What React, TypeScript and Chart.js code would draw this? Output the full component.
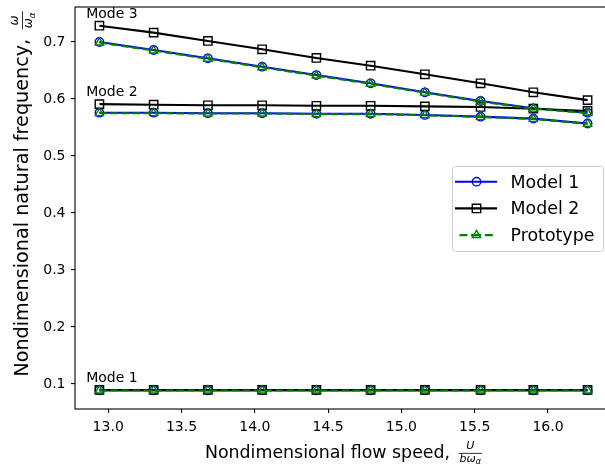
import React, { useEffect, useRef } from "react";
import { Chart, registerables } from "chart.js";

Chart.register(...registerables);

// ---------------- data ----------------
const flowSpeed = [12.94, 13.31, 13.68, 14.05, 14.42, 14.79, 15.16, 15.54, 15.9, 16.27];

const model1Mode1 = [0.0888, 0.0888, 0.0888, 0.0888, 0.0888, 0.0888, 0.0888, 0.0888, 0.0888, 0.0888];
const model1Mode2 = [0.576, 0.576, 0.575, 0.575, 0.574, 0.574, 0.572, 0.569, 0.5655, 0.557];
const model1Mode3 = [0.7, 0.686, 0.6714, 0.6567, 0.642, 0.6275, 0.6117, 0.5965, 0.5837, 0.576];

const model2Mode1 = [0.0895, 0.0895, 0.0895, 0.0895, 0.0895, 0.0895, 0.0895, 0.0895, 0.0895, 0.0895];
const model2Mode2 = [0.591, 0.59, 0.589, 0.589, 0.588, 0.588, 0.587, 0.586, 0.583, 0.579];
const model2Mode3 = [0.7286, 0.7164, 0.7018, 0.6872, 0.672, 0.6584, 0.6433, 0.6275, 0.6117, 0.598];

const protoMode1 = [0.0886, 0.0886, 0.0886, 0.0886, 0.0886, 0.0886, 0.0886, 0.0886, 0.0886, 0.0886];
const protoMode2 = [0.575, 0.575, 0.5745, 0.5745, 0.5735, 0.5735, 0.5715, 0.5685, 0.565, 0.5565];
const protoMode3 = [0.699, 0.685, 0.6705, 0.6555, 0.641, 0.6265, 0.611, 0.5955, 0.583, 0.5755];

const seriesNames = ["Model 1", "Model 2", "Prototype"];
const modeLabels = ["Mode 1", "Mode 2", "Mode 3"];
const modeLabelX = [12.85, 12.85, 12.85];
const modeLabelY = [0.103, 0.606, 0.742];

const xTicks = [13.0, 13.5, 14.0, 14.5, 15.0, 15.5, 16.0];
const yTicks = [0.1, 0.2, 0.3, 0.4, 0.5, 0.6, 0.7];
const xRange = [12.7735, 16.4365];
const yRange = [0.0561, 0.7614];

const xTitleText = "Nondimensional flow speed, ";
const yTitleText = "Nondimensional natural frequency, ";

// ---------------- styles ----------------
const FONT = '"DejaVu Sans", sans-serif';
const BLUE = "#0000ff";
const BLACK = "#000000";
const GREEN = "#008000";
const LINE_W = 2.08;
const MARK_W = 1.4;
const DASH = [7.7, 3.3];

type Piece = { t: string; size: number; italic: boolean; dy?: number };

function pieceFont(p: Piece) {
  return `${p.italic ? "italic " : ""}${p.size}px ${FONT}`;
}
function measurePieces(ctx: CanvasRenderingContext2D, pieces: Piece[]) {
  let w = 0;
  for (const p of pieces) {
    ctx.font = pieceFont(p);
    w += ctx.measureText(p.t).width;
  }
  return w;
}
function drawPieces(ctx: CanvasRenderingContext2D, pieces: Piece[], x: number, baseline: number) {
  let cx = x;
  for (const p of pieces) {
    ctx.font = pieceFont(p);
    ctx.fillText(p.t, cx, baseline + (p.dy || 0));
    cx += ctx.measureText(p.t).width;
  }
}
function drawTitle(
  ctx: CanvasRenderingContext2D,
  cx: number,
  baseline: number,
  main: string,
  num: Piece[],
  den: Piece[],
  size: number
) {
  const k = size / 17.4;
  ctx.fillStyle = "#000";
  ctx.textAlign = "left";
  ctx.textBaseline = "alphabetic";
  ctx.font = `${size}px ${FONT}`;
  const w1 = ctx.measureText(main).width;
  const nw = measurePieces(ctx, num);
  const dw = measurePieces(ctx, den);
  const fw = Math.max(nw, dw) + 2 * k;
  const gap = 3 * k;
  const total = w1 + gap + fw;
  const x0 = cx - total / 2;
  ctx.font = `${size}px ${FONT}`;
  ctx.fillText(main, x0, baseline);
  const fx = x0 + w1 + gap;
  const barY = baseline - 5 * k;
  ctx.fillRect(fx, barY - 0.4, fw, 0.8);
  drawPieces(ctx, num, fx + (fw - nw) / 2, barY - 4.5 * k);
  drawPieces(ctx, den, fx + (fw - dw) / 2, barY + 8.5 * k);
}

function drawMarker(ctx: CanvasRenderingContext2D, style: string, x: number, y: number, color: string) {
  ctx.save();
  ctx.strokeStyle = color;
  ctx.lineWidth = MARK_W;
  ctx.setLineDash([]);
  ctx.beginPath();
  if (style === "circle") {
    ctx.arc(x, y, 4.2, 0, Math.PI * 2);
  } else if (style === "rect") {
    ctx.rect(x - 4.2, y - 4.2, 8.4, 8.4);
  } else {
    const r = 4.8;
    ctx.moveTo(x, y - r);
    ctx.lineTo(x + r * Math.sin((2 * Math.PI) / 3), y - r * Math.cos((2 * Math.PI) / 3));
    ctx.lineTo(x + r * Math.sin((4 * Math.PI) / 3), y - r * Math.cos((4 * Math.PI) / 3));
    ctx.closePath();
  }
  ctx.stroke();
  ctx.restore();
}

const overlay = {
  id: "overlay",
  afterDraw(chart: any) {
    const { ctx, chartArea: a } = chart;
    const xs = chart.scales.x;
    const ys = chart.scales.y;
    ctx.save();
    // frame
    ctx.strokeStyle = "#000";
    ctx.lineWidth = 1.1;
    ctx.setLineDash([]);
    ctx.strokeRect(a.left, a.top, a.right - a.left, a.bottom - a.top);

    // mode labels
    ctx.font = `14px ${FONT}`;
    ctx.fillStyle = "#000";
    ctx.textAlign = "left";
    ctx.textBaseline = "alphabetic";
    modeLabels.forEach((t, i) => {
      ctx.fillText(t, xs.getPixelForValue(modeLabelX[i]), ys.getPixelForValue(modeLabelY[i]));
    });

    // x title
    drawTitle(
      ctx,
      (a.left + a.right) / 2,
      458.3,
      xTitleText,
      [{ t: "U", size: 11, italic: true }],
      [
        { t: "b", size: 11, italic: true },
        { t: "ω", size: 11, italic: true },
        { t: "α", size: 8, italic: true, dy: 2.5 },
      ],
      17.4
    );

    // y title
    ctx.save();
    ctx.translate(28, 194);
    ctx.rotate(-Math.PI / 2);
    drawTitle(
      ctx,
      0,
      0,
      yTitleText,
      [{ t: "ω", size: 12, italic: true }],
      [
        { t: "ω", size: 12, italic: true },
        { t: "α", size: 8.8, italic: true, dy: 2.7 },
      ],
      19.2
    );
    ctx.restore();

    // legend
    const lx = 452.5,
      ly = 166.5,
      lw = 151,
      lh = 85,
      rr = 3;
    ctx.beginPath();
    ctx.moveTo(lx + rr, ly);
    ctx.lineTo(lx + lw - rr, ly);
    ctx.arcTo(lx + lw, ly, lx + lw, ly + rr, rr);
    ctx.lineTo(lx + lw, ly + lh - rr);
    ctx.arcTo(lx + lw, ly + lh, lx + lw - rr, ly + lh, rr);
    ctx.lineTo(lx + rr, ly + lh);
    ctx.arcTo(lx, ly + lh, lx, ly + lh - rr, rr);
    ctx.lineTo(lx, ly + rr);
    ctx.arcTo(lx, ly, lx + rr, ly, rr);
    ctx.closePath();
    ctx.fillStyle = "rgba(255,255,255,0.8)";
    ctx.fill();
    ctx.strokeStyle = "#cccccc";
    ctx.lineWidth = 1;
    ctx.stroke();

    const legColors = [BLUE, BLACK, GREEN];
    const legMarkers = ["circle", "rect", "triangle"];
    seriesNames.forEach((name, i) => {
      const cy = 181.7 + i * 26.7;
      ctx.strokeStyle = legColors[i];
      ctx.lineWidth = LINE_W;
      ctx.beginPath();
      if (i === 2) {
        const segs = [
          [459.5, 467.3],
          [471, 481],
          [485, 492.8],
        ];
        segs.forEach(([s, e]) => {
          ctx.moveTo(s, cy);
          ctx.lineTo(e, cy);
        });
      } else {
        ctx.moveTo(455, cy);
        ctx.lineTo(497, cy);
      }
      ctx.stroke();
      drawMarker(ctx, legMarkers[i], 476.5, cy, legColors[i]);
      ctx.fillStyle = "#000";
      ctx.font = `17.4px ${FONT}`;
      ctx.textAlign = "left";
      ctx.textBaseline = "alphabetic";
      ctx.fillText(name, 510.5, cy + 6);
    });

    ctx.restore();
  },
};

function makeSet(
  label: string,
  values: number[],
  color: string,
  pointStyle: string,
  radius: number,
  order: number,
  dash: number[]
) {
  return {
    label,
    data: flowSpeed.map((x, i) => ({ x, y: values[i] })),
    borderColor: color,
    borderWidth: LINE_W,
    borderDash: dash,
    pointStyle,
    pointRadius: radius,
    pointBorderWidth: MARK_W,
    pointBorderColor: color,
    pointBackgroundColor: "rgba(0,0,0,0)",
    pointHoverRadius: radius,
    fill: false,
    tension: 0,
    order,
  };
}

export default function App() {
  const ref = useRef<HTMLCanvasElement>(null);
  useEffect(() => {
    if (!ref.current) return;
    const tickFont = { family: FONT, size: 14 };
    const chart = new Chart(ref.current, {
      type: "line",
      data: {
        datasets: [
          makeSet("Model 1", model1Mode1, BLUE, "circle", 4.2, 2, []),
          makeSet("Model 1", model1Mode2, BLUE, "circle", 4.2, 2, []),
          makeSet("Model 1", model1Mode3, BLUE, "circle", 4.2, 2, []),
          makeSet("Model 2", model2Mode1, BLACK, "rect", 5.9, 1, []),
          makeSet("Model 2", model2Mode2, BLACK, "rect", 5.9, 1, []),
          makeSet("Model 2", model2Mode3, BLACK, "rect", 5.9, 1, []),
          makeSet("Prototype", protoMode1, GREEN, "triangle", 4.8, 0, DASH),
          makeSet("Prototype", protoMode2, GREEN, "triangle", 4.8, 0, DASH),
          makeSet("Prototype", protoMode3, GREEN, "triangle", 4.8, 0, DASH),
        ] as any,
      },
      options: {
        responsive: false,
        animation: false,
        devicePixelRatio: 1,
        layout: { autoPadding: false, padding: { top: 7, left: 0, right: 0, bottom: 0 } },
        plugins: { legend: { display: false }, tooltip: { enabled: false } },
        events: [],
        scales: {
          x: {
            type: "linear",
            min: xRange[0],
            max: xRange[1],
            afterBuildTicks: (s: any) => {
              s.ticks = xTicks.map((v) => ({ value: v }));
            },
            afterFit: (s: any) => {
              s.height = 60;
              s.paddingLeft = 0;
              s.paddingRight = 0;
              s.paddingTop = 0;
              s.paddingBottom = 0;
            },
            border: { display: false },
            grid: { drawOnChartArea: false, drawTicks: true, tickLength: 4, color: "#000", lineWidth: 1.1 },
            ticks: {
              font: tickFont,
              color: "#000",
              padding: 6,
              maxRotation: 0,
              autoSkip: false,
              callback: (v: any) => Number(v).toFixed(1),
            },
          },
          y: {
            type: "linear",
            min: yRange[0],
            max: yRange[1],
            afterBuildTicks: (s: any) => {
              s.ticks = yTicks.map((v) => ({ value: v }));
            },
            afterFit: (s: any) => {
              s.width = 75;
              s.paddingLeft = 0;
              s.paddingRight = 0;
              s.paddingTop = 0;
              s.paddingBottom = 0;
            },
            border: { display: false },
            grid: { drawOnChartArea: false, drawTicks: true, tickLength: 4, color: "#000", lineWidth: 1.1 },
            ticks: {
              font: tickFont,
              color: "#000",
              padding: 5.5,
              autoSkip: false,
              callback: (v: any) => Number(v).toFixed(1),
            },
          },
        },
      } as any,
      plugins: [overlay],
    });
    return () => chart.destroy();
  }, []);
  return (
    <div
      style={{
        position: "fixed",
        left: 0,
        top: 0,
        width: 605,
        height: 469,
        overflow: "hidden",
        background: "#fff",
      }}
    >
      <canvas ref={ref} width={612} height={469} style={{ display: "block", width: 612, height: 469 }} />
    </div>
  );
}
